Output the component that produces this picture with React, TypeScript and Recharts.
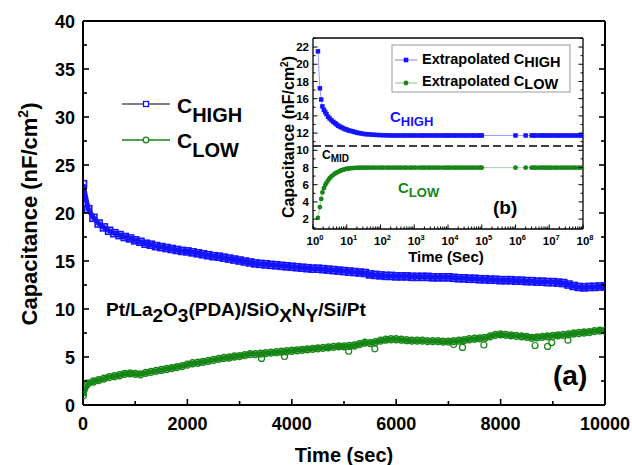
import React from "react";
import { LineChart, Line, XAxis, YAxis, ReferenceLine } from "recharts";

const FONT = '"Liberation Sans", Arial, Helvetica, sans-serif';
const BLUE = "#1414ff";
const GREEN = "#168616";
const LIGHT_BLUE = "#8080ff";
const LIGHT_GREEN = "#8cc48c";

// panel (a): one reading every 100 s, 0..10000 s
const STEP_SEC = 100;
const cHighMeasured = [
  23.0, 20.4, 19.5, 18.9, 18.5, 18.15, 17.9, 17.7, 17.5, 17.35,
  17.15, 17.0, 16.8, 16.7, 16.55, 16.45, 16.35, 16.25, 16.15, 16.05,
  16.0, 15.9, 15.8, 15.7, 15.6, 15.5, 15.45, 15.35, 15.25, 15.15,
  15.05, 14.95, 14.85, 14.75, 14.7, 14.65, 14.6, 14.55, 14.5, 14.45,
  14.4, 14.35, 14.3, 14.25, 14.2, 14.2, 14.15, 14.1, 14.05, 14.0,
  13.95, 13.9, 13.85, 13.8, 13.75, 13.6, 13.55, 13.5, 13.45, 13.45,
  13.4, 13.4, 13.4, 13.35, 13.35, 13.35, 13.35, 13.3, 13.3, 13.3,
  13.3, 13.25, 13.2, 13.2, 13.15, 13.15, 13.1, 13.1, 13.05, 13.05,
  13.0, 13.0, 13.0, 12.95, 12.95, 12.9, 12.9, 12.85, 12.85, 12.8,
  12.8, 12.75, 12.7, 12.55, 12.4, 12.3, 12.25, 12.3, 12.3, 12.35,
  12.35,
];
const cLowMeasured = [
  1.0, 2.25, 2.45, 2.6, 2.75, 2.9, 3.0, 3.1, 3.25, 3.3,
  3.25, 3.2, 3.35, 3.45, 3.55, 3.65, 3.75, 3.85, 3.95, 4.05,
  4.2, 4.35, 4.4, 4.5, 4.6, 4.7, 4.8, 4.9, 4.95, 5.05,
  5.1, 5.2, 5.3, 5.3, 5.35, 5.4, 5.45, 5.5, 5.55, 5.6,
  5.65, 5.7, 5.75, 5.8, 5.85, 5.9, 5.95, 6.0, 6.05, 6.1,
  6.1, 6.15, 6.2, 6.35, 6.5, 6.45, 6.55, 6.7, 6.8, 6.85,
  6.85, 6.8, 6.75, 6.7, 6.7, 6.7, 6.65, 6.65, 6.65, 6.6,
  6.6, 6.65, 6.7, 6.75, 6.85, 6.9, 6.95, 7.0, 7.15, 7.3,
  7.35, 7.3, 7.25, 7.2, 7.15, 7.1, 7.0, 7.05, 7.1, 7.15,
  7.2, 7.25, 7.3, 7.35, 7.45, 7.5, 7.55, 7.6, 7.7, 7.75,
  7.75,
];
// stray low C_LOW readings
const cLowDipTime = [3420, 3860, 5090, 5590, 7100, 7270, 7680, 8660, 8900, 8980, 9290];
const cLowDipValue = [4.85, 5.05, 5.6, 5.85, 6.3, 6.0, 6.25, 6.2, 6.1, 6.5, 6.75];

// panel (b): extrapolated values, time in s
const extTime = [
  1.4, 1.6, 1.75, 1.9, 2.1, 2.3, 2.5, 2.8, 3.1, 3.5,
  4, 4.5, 5, 5.6, 6.3, 7, 8, 9, 10, 11.5,
  13, 15, 17, 20, 23, 27, 32, 38, 45, 55,
  65, 80, 100, 120, 150, 180, 220, 270, 330, 400,
  500, 600, 750, 900, 1100, 1400, 1700, 2000, 2500, 3000,
  3700, 4500, 5500, 7000, 8500, 10000, 12000, 15000, 18000, 22000,
  27000, 33000, 40000, 50000, 60000, 75000, 90000, 100000, 1000000, 2000000,
  3000000, 3500000, 4000000, 5000000, 6000000, 7000000, 8500000, 10000000, 12000000, 15000000,
  18000000, 22000000, 27000000, 33000000, 40000000, 50000000, 60000000, 75000000, 90000000, 100000000,
];
const extHigh = [
  21.5, 17.2, 15.9, 15.1, 14.7, 14.45, 14.2, 13.9, 13.7, 13.5,
  13.3, 13.15, 13.0, 12.85, 12.75, 12.65, 12.55, 12.45, 12.4, 12.3,
  12.25, 12.2, 12.12, 12.05, 12.0, 11.95, 11.9, 11.87, 11.85, 11.82,
  11.8, 11.78, 11.76, 11.75, 11.74, 11.73, 11.72, 11.72, 11.72, 11.72,
  11.72, 11.72, 11.72, 11.72, 11.72, 11.72, 11.72, 11.72, 11.72, 11.72,
  11.72, 11.72, 11.72, 11.72, 11.72, 11.72, 11.72, 11.72, 11.72, 11.72,
  11.72, 11.72, 11.72, 11.72, 11.72, 11.72, 11.72, 11.72, 11.72, 11.72,
  11.72, 11.72, 11.72, 11.72, 11.72, 11.72, 11.72, 11.72, 11.72, 11.72,
  11.72, 11.72, 11.72, 11.72, 11.72, 11.72, 11.72, 11.72, 11.72, 11.72,
];
const extLow = [
  2.15, 3.4, 4.35, 5.1, 5.6, 5.95, 6.2, 6.5, 6.75, 6.95,
  7.15, 7.3, 7.4, 7.5, 7.6, 7.68, 7.75, 7.8, 7.85, 7.88,
  7.91, 7.93, 7.95, 7.96, 7.97, 7.98, 7.98, 7.98, 7.98, 7.98,
  7.98, 7.98, 7.98, 7.98, 7.98, 7.98, 7.98, 7.98, 7.98, 7.98,
  7.98, 7.98, 7.98, 7.98, 7.98, 7.98, 7.98, 7.98, 7.98, 7.98,
  7.98, 7.98, 7.98, 7.98, 7.98, 7.98, 7.98, 7.98, 7.98, 7.98,
  7.98, 7.98, 7.98, 7.98, 7.98, 7.98, 7.98, 7.98, 7.98, 7.98,
  7.98, 7.98, 7.98, 7.98, 7.98, 7.98, 7.98, 7.98, 7.98, 7.98,
  7.98, 7.98, 7.98, 7.98, 7.98, 7.98, 7.98, 7.98, 7.98, 7.98,
];
const cMid = 10.5;

// ticks
const mainXTicks = [0, 1000, 2000, 3000, 4000, 5000, 6000, 7000, 8000, 9000, 10000];
const mainYTicks = [0, 2.5, 5, 7.5, 10, 12.5, 15, 17.5, 20, 22.5, 25, 27.5, 30, 32.5, 35, 37.5, 40];
const insetYTicks = [1, 2, 3, 4, 5, 6, 7, 8, 9, 10, 11, 12, 13, 14, 15, 16, 17, 18, 19, 20, 21, 22, 23];
const decades = [1, 10, 100, 1e3, 1e4, 1e5, 1e6, 1e7];
const insetXTicks = [...decades.flatMap((d) => [1, 2, 3, 4, 5, 6, 7, 8, 9].map((m) => m * d)), 1e8];

const mainRows = cHighMeasured.map((v, i) => ({ t: i * STEP_SEC, high: v, low: cLowMeasured[i] }));
const dipRows = cLowDipTime.map((t, i) => ({ t, low: cLowDipValue[i] }));
const extRows = extTime.map((t, i) => ({ t, high: extHigh[i], low: extLow[i] }));

const txt = { fontFamily: FONT, fontWeight: 700, fill: "#000" } as const;

type Side = "bottom" | "top" | "left" | "right";
function axisTick(
  side: Side,
  isMajor: (v: number) => boolean,
  lens: [number, number],
  sw: number,
  label?: (v: number, x: number, y: number) => React.ReactNode
) {
  return (p: any) => {
    const v = p.payload.value;
    const major = isMajor(v);
    const l = major ? lens[0] : lens[1];
    let x2 = p.x;
    let y2 = p.y;
    if (side === "bottom") y2 -= l;
    if (side === "top") y2 += l;
    if (side === "left") x2 += l;
    if (side === "right") x2 -= l;
    return (
      <g>
        <line x1={p.x} y1={p.y} x2={x2} y2={y2} stroke="#000" strokeWidth={sw} />
        {major && label ? label(v, p.x, p.y) : null}
      </g>
    );
  };
}

const isLogMajor = (v: number) => Math.abs(Math.log10(v) - Math.round(Math.log10(v))) < 1e-9;

const hollowSquare = (color: string, s: number, sw: number) => (p: any) =>
  p.cx == null ? <g key={`q${p.index}`} /> : (
    <rect key={`q${p.index}`} x={p.cx - s / 2} y={p.cy - s / 2} width={s} height={s} fill="none" stroke={color} strokeWidth={sw} />
  );
const hollowCircle = (color: string, r: number, sw: number) => (p: any) =>
  p.cx == null ? <g key={`c${p.index}`} /> : (
    <circle key={`c${p.index}`} cx={p.cx} cy={p.cy} r={r} fill="none" stroke={color} strokeWidth={sw} />
  );
const filledSquare = (color: string, s: number) => (p: any) =>
  p.cx == null ? <g key={`f${p.index}`} /> : (
    <rect key={`f${p.index}`} x={p.cx - s / 2} y={p.cy - s / 2} width={s} height={s} fill={color} />
  );
const filledCircle = (color: string, r: number) => (p: any) =>
  p.cx == null ? <g key={`g${p.index}`} /> : <circle key={`g${p.index}`} cx={p.cx} cy={p.cy} r={r} fill={color} />;

const MainChart = () => (
  <LineChart width={632} height={465} margin={{ top: 20, right: 26, bottom: 59, left: 82 }}>
    <XAxis
      xAxisId="b" type="number" dataKey="t" domain={[0, 10000]} ticks={mainXTicks} interval={0}
      height={1} tickSize={0} tickMargin={0} tickLine={false} allowDataOverflow
      axisLine={{ stroke: "#000", strokeWidth: 2 }}
      tick={axisTick("bottom", (v) => v % 2000 === 0, [6, 4], 1.6, (v, x, y) => (
        <text x={x} y={y + 25} textAnchor="middle" fontSize={18} {...txt}>{v}</text>
      ))}
    />
    <XAxis
      xAxisId="t" orientation="top" type="number" domain={[0, 10000]} ticks={mainXTicks} interval={0}
      height={1} tickSize={0} tickMargin={0} tickLine={false} allowDataOverflow
      axisLine={{ stroke: "#000", strokeWidth: 2 }}
      tick={axisTick("top", (v) => v % 2000 === 0, [6, 4], 1.6)}
    />
    <YAxis
      yAxisId="l" type="number" domain={[0, 40]} ticks={mainYTicks} interval={0}
      width={1} tickSize={0} tickMargin={0} tickLine={false} allowDataOverflow
      axisLine={{ stroke: "#000", strokeWidth: 2 }}
      tick={axisTick("left", (v) => v % 5 === 0, [6, 4], 1.6, (v, x, y) => (
        <text x={x - 8} y={y + 6.5} textAnchor="end" fontSize={18} {...txt}>{v}</text>
      ))}
    />
    <YAxis
      yAxisId="r" orientation="right" type="number" domain={[0, 40]} ticks={mainYTicks} interval={0}
      width={1} tickSize={0} tickMargin={0} tickLine={false} allowDataOverflow
      axisLine={{ stroke: "#000", strokeWidth: 2 }}
      tick={axisTick("right", (v) => v % 5 === 0, [6, 4], 1.6)}
    />
    <Line xAxisId="b" yAxisId="l" data={mainRows} dataKey="high" stroke={BLUE} strokeWidth={5}
      dot={hollowSquare(BLUE, 7, 1.6)} isAnimationActive={false} />
    <Line xAxisId="b" yAxisId="l" data={mainRows} dataKey="low" stroke={GREEN} strokeWidth={5}
      dot={hollowCircle(GREEN, 3.4, 1.5)} isAnimationActive={false} />
    <Line xAxisId="b" yAxisId="l" data={dipRows} dataKey="low" stroke="none"
      dot={hollowCircle(GREEN, 3, 1.2)} isAnimationActive={false} />
  </LineChart>
);

const InsetChart = () => (
  <LineChart width={340} height={250} margin={{ top: 12, right: 16, bottom: 45, left: 52 }}>
    <XAxis
      xAxisId="b" type="number" scale="log" dataKey="t" domain={[1, 1e8]} ticks={insetXTicks} interval={0}
      height={1} tickSize={0} tickMargin={0} tickLine={false} allowDataOverflow
      axisLine={{ stroke: "#000", strokeWidth: 1.3 }}
      tick={axisTick("bottom", isLogMajor, [4.5, 2.5], 1, (v, x, y) => (
        <text x={x - 6.5} y={y + 15.5} fontSize={11.5} {...txt}>
          10<tspan fontSize={7.5} dy={-5}>{Math.round(Math.log10(v))}</tspan>
        </text>
      ))}
    />
    <XAxis
      xAxisId="t" orientation="top" type="number" scale="log" domain={[1, 1e8]} ticks={insetXTicks} interval={0}
      height={1} tickSize={0} tickMargin={0} tickLine={false} allowDataOverflow
      axisLine={{ stroke: "#000", strokeWidth: 1.3 }}
      tick={axisTick("top", isLogMajor, [4.5, 2.5], 1)}
    />
    <YAxis
      yAxisId="l" type="number" domain={[0.85, 23.05]} ticks={insetYTicks} interval={0}
      width={1} tickSize={0} tickMargin={0} tickLine={false} allowDataOverflow
      axisLine={{ stroke: "#000", strokeWidth: 1.3 }}
      tick={axisTick("left", (v) => v % 2 === 0, [4.5, 2.5], 1, (v, x, y) => (
        <text x={x - 4} y={y + 4.2} textAnchor="end" fontSize={11.5} {...txt}>{v}</text>
      ))}
    />
    <YAxis
      yAxisId="r" orientation="right" type="number" domain={[0.85, 23.05]} ticks={insetYTicks} interval={0}
      width={1} tickSize={0} tickMargin={0} tickLine={false} allowDataOverflow
      axisLine={{ stroke: "#000", strokeWidth: 1.3 }}
      tick={axisTick("right", (v) => v % 2 === 0, [4.5, 2.5], 1)}
    />
    <ReferenceLine xAxisId="b" yAxisId="l" y={cMid} stroke="#000" strokeWidth={1.4} strokeDasharray="8 4" />
    <Line xAxisId="b" yAxisId="l" data={extRows} dataKey="high" stroke={LIGHT_BLUE} strokeWidth={0.8}
      dot={filledSquare(BLUE, 4.5)} isAnimationActive={false} />
    <Line xAxisId="b" yAxisId="l" data={extRows} dataKey="low" stroke={LIGHT_GREEN} strokeWidth={0.8}
      dot={filledCircle(GREEN, 2.4)} isAnimationActive={false} />
  </LineChart>
);

const Overlay = () => (
  <svg width={632} height={465} style={{ position: "absolute", left: 0, top: 0, pointerEvents: "none" }}>
    {/* axis titles, panel (a) */}
    <text transform="translate(37,214) rotate(-90)" textAnchor="middle" fontSize={22} {...txt}>
      Capacitance (nF/cm<tspan fontSize={14} dy={-9}>2</tspan><tspan dy={9}>)</tspan>
    </text>
    <text x={344} y={462} textAnchor="middle" fontSize={20} {...txt}>Time (sec)</text>

    {/* legend, panel (a) */}
    <line x1={122} y1={104} x2={170} y2={104} stroke="#000" strokeWidth={1.2} />
    <rect x={143.5} y={101.5} width={5} height={5} fill="#fff" stroke={BLUE} strokeWidth={1.3} />
    <text x={177} y={113} fontSize={21} {...txt}>C<tspan fontSize={20} dy={9}>HIGH</tspan></text>
    <line x1={122} y1={140} x2={170} y2={140} stroke={GREEN} strokeWidth={1.5} />
    <circle cx={146} cy={140} r={2.8} fill="#fff" stroke={GREEN} strokeWidth={1.3} />
    <text x={177} y={148} fontSize={21} {...txt}>C<tspan fontSize={20} dy={9}>LOW</tspan></text>

    <text x={106} y={316} fontSize={19} {...txt}>
      Pt/La<tspan dy={6}>2</tspan><tspan dy={-6}>O</tspan><tspan dy={6}>3</tspan>
      <tspan dy={-6}>(PDA)/SiO</tspan><tspan dy={6}>X</tspan><tspan dy={-6}>N</tspan>
      <tspan dy={6}>Y</tspan><tspan dy={-6}>/Si/Pt</tspan>
    </text>
    <text x={553} y={385} fontSize={28} {...txt}>(a)</text>

    {/* panel (b) */}
    <text transform="translate(294,137) rotate(-90)" textAnchor="middle" fontSize={16} {...txt}>
      Capacitance (nF/cm<tspan fontSize={10} dy={-6}>2</tspan><tspan dy={6}>)</tspan>
    </text>
    <text x={446} y={262} textAnchor="middle" fontSize={15} {...txt}>Time (Sec)</text>

    <rect x={392} y={45} width={178} height={47} fill="#fff" stroke="#9a9a9a" strokeWidth={1} />
    <line x1={395} y1={60} x2={417} y2={60} stroke={LIGHT_BLUE} strokeWidth={1} />
    <rect x={403.7} y={57.7} width={4.6} height={4.6} fill={BLUE} />
    <text x={422} y={64} fontSize={14.5} {...txt}>Extrapolated C<tspan dy={3}>HIGH</tspan></text>
    <line x1={395} y1={83} x2={417} y2={83} stroke={LIGHT_GREEN} strokeWidth={1} />
    <circle cx={406} cy={83} r={2.4} fill={GREEN} />
    <text x={422} y={86} fontSize={14.5} {...txt}>Extrapolated C<tspan dy={3}>LOW</tspan></text>

    <text x={390} y={122} fontSize={15} {...txt} fill={BLUE}>C<tspan fontSize={13} dy={4}>HIGH</tspan></text>
    <text x={322} y={159} fontSize={12} {...txt}>C<tspan fontSize={10} dy={3}>MID</tspan></text>
    <text x={398} y={193} fontSize={15} {...txt} fill={GREEN}>C<tspan fontSize={13} dy={4}>LOW</tspan></text>
    <text x={493} y={214} fontSize={19} {...txt}>(b)</text>
  </svg>
);

export default function App() {
  return (
    <div style={{ position: "absolute", left: 0, top: 0, width: 632, height: 465, background: "#fff" }}>
      <div style={{ position: "absolute", left: 0, top: 0 }}>
        <MainChart />
      </div>
      <div style={{ position: "absolute", left: 260, top: 25 }}>
        <InsetChart />
      </div>
      <Overlay />
    </div>
  );
}
